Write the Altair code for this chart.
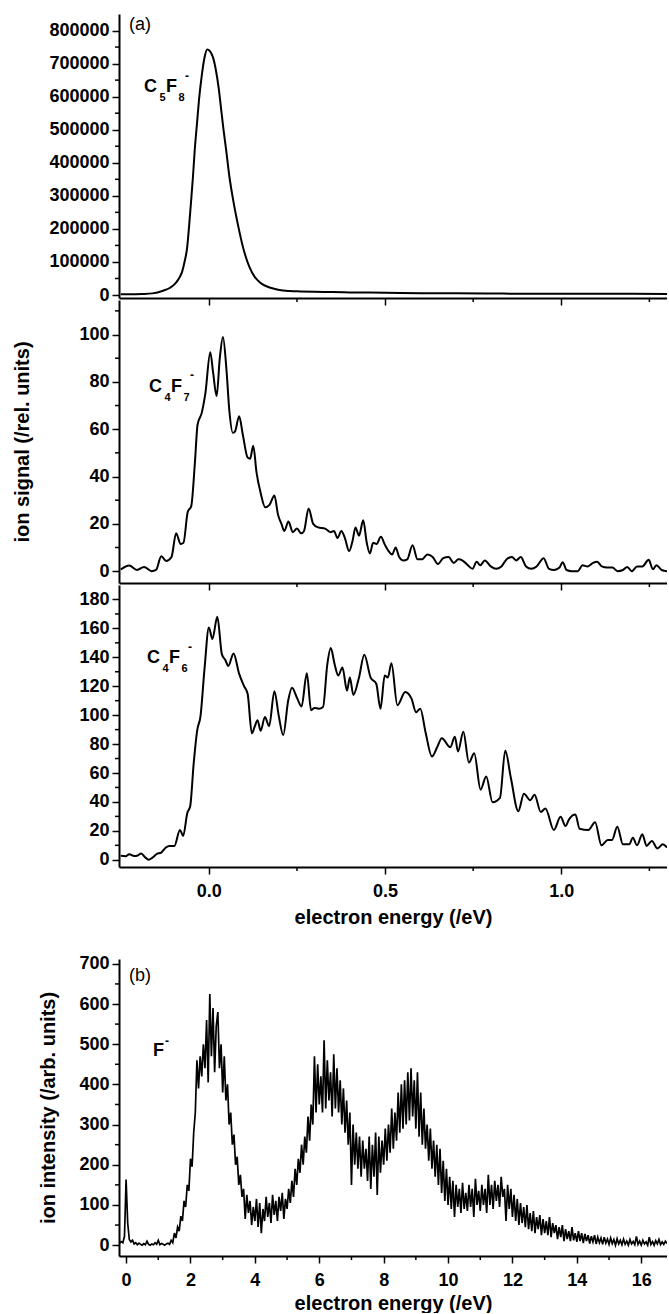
import altair as alt
import pandas as pd

FONT = "Liberation Sans"

# ---------------- (a) anion yields at low electron energy ----------------
C5F8_ENERGY = [-0.25, -0.22, -0.19, -0.16, -0.13, -0.11, -0.095, -0.085, -0.076, -0.068,
               -0.062, -0.056, -0.050, -0.045, -0.040, -0.034, -0.028, -0.020, -0.012, -0.005,
               0.003, 0.012, 0.020, 0.028, 0.034, 0.041, 0.049, 0.058, 0.069, 0.083,
               0.099, 0.115, 0.130, 0.145, 0.160, 0.175, 0.200, 0.23, 0.26, 0.30,
               0.35, 0.40, 0.50, 0.60, 0.70, 0.80, 0.90, 1.00, 1.10, 1.20, 1.30]
C5F8_SIGNAL = [2000, 2000, 3000, 5000, 13000, 22000, 35000, 50000, 70000, 105000,
               140000, 210000, 290000, 360000, 440000, 515000, 590000, 665000, 720000, 743000,
               738000, 718000, 680000, 625000, 570000, 505000, 439000, 360000, 287000, 210000,
               136000, 85000, 55000, 38000, 28000, 22000, 15000, 12000, 11000, 10000,
               9000, 8000, 7000, 5500, 5000, 4500, 4000, 4000, 3500, 3500, 3000]

C4F7_ENERGY = [-0.250, -0.226, -0.204, -0.184, -0.162, -0.150, -0.135, -0.121, -0.106, -0.093,
               -0.080, -0.072, -0.060, -0.050, -0.040, -0.032, -0.020, -0.010, 0.004, 0.012,
               0.022, 0.031, 0.040, 0.050, 0.058, 0.068, 0.074, 0.086, 0.096, 0.110,
               0.117, 0.126, 0.135, 0.147, 0.160, 0.172, 0.186, 0.196, 0.206, 0.214,
               0.226, 0.238, 0.250, 0.262, 0.270, 0.283, 0.296, 0.310, 0.330, 0.345,
               0.355, 0.365, 0.376, 0.386, 0.398, 0.408, 0.416, 0.426, 0.438, 0.448,
               0.457, 0.466, 0.476, 0.488, 0.500, 0.510, 0.520, 0.530, 0.540, 0.552,
               0.563, 0.578, 0.592, 0.605, 0.620, 0.635, 0.650, 0.665, 0.680, 0.695,
               0.708, 0.720, 0.735, 0.748, 0.760, 0.770, 0.783, 0.800, 0.815, 0.830,
               0.845, 0.860, 0.872, 0.885, 0.900, 0.915, 0.930, 0.950, 0.965, 0.980,
               0.995, 1.004, 1.015, 1.030, 1.047, 1.060, 1.075, 1.090, 1.102, 1.115,
               1.130, 1.145, 1.160, 1.175, 1.187, 1.200, 1.215, 1.230, 1.248, 1.260,
               1.270, 1.285, 1.300]
C4F7_SIGNAL = [0.7, 2.4, 0.5, 1.8, 0.0, 0.5, 6.3, 4.3, 6.0, 16.0,
               11.5, 12.0, 25.0, 27.5, 45.0, 62.0, 67.0, 75.0, 92.5, 84.0,
               74.0, 90.0, 99.0, 85.0, 68.0, 58.5, 59.0, 65.5, 58.0, 48.0,
               47.5, 53.0, 42.0, 33.0, 27.0, 28.0, 32.0, 24.0, 20.0, 17.0,
               21.0, 16.5, 18.0, 16.0, 17.0, 26.5, 20.0, 18.5, 18.0, 16.5,
               17.0, 14.0, 17.0, 14.0, 8.5, 13.0, 18.5, 15.0, 21.5, 12.0,
               7.5, 12.0, 11.5, 14.5, 11.0, 8.5, 7.0, 10.0, 6.0, 4.5,
               5.0, 11.0, 5.0, 5.0, 7.0, 6.0, 3.0, 5.5, 6.0, 3.5,
               5.0, 4.5, 2.5, 1.0, 4.0, 2.5, 4.5, 2.0, 1.0, 2.0,
               5.0, 6.0, 4.5, 6.0, 2.0, 1.0, 2.0, 5.5, 1.0, 0.5,
               1.5, 3.8, 0.5, 0.0, 0.0, 2.5, 2.0, 3.5, 4.0, 2.0,
               1.5, 1.5, 0.0, 0.5, 1.8, 0.0, 2.0, 2.0, 4.8, 0.8,
               2.5, 0.5, 0.0]

C4F6_ENERGY = [-0.250, -0.236, -0.226, -0.212, -0.202, -0.192, -0.180, -0.171, -0.160, -0.148,
               -0.135, -0.122, -0.112, -0.098, -0.082, -0.073, -0.061, -0.053, -0.043, -0.033,
               -0.024, -0.012, 0.000, 0.010, 0.024, 0.037, 0.047, 0.055, 0.070, 0.086,
               0.100, 0.110, 0.122, 0.130, 0.138, 0.147, 0.159, 0.171, 0.186, 0.198,
               0.211, 0.225, 0.236, 0.250, 0.263, 0.278, 0.290, 0.300, 0.312, 0.324,
               0.336, 0.346, 0.357, 0.367, 0.379, 0.392, 0.400, 0.410, 0.426, 0.441,
               0.459, 0.475, 0.487, 0.499, 0.508, 0.518, 0.535, 0.557, 0.575, 0.588,
               0.600, 0.615, 0.633, 0.648, 0.661, 0.685, 0.698, 0.707, 0.722, 0.738,
               0.753, 0.771, 0.787, 0.805, 0.826, 0.841, 0.857, 0.878, 0.894, 0.912,
               0.924, 0.942, 0.955, 0.979, 0.998, 1.012, 1.022, 1.040, 1.052, 1.077,
               1.096, 1.114, 1.132, 1.144, 1.159, 1.175, 1.193, 1.203, 1.215, 1.230,
               1.242, 1.257, 1.273, 1.288, 1.300]
C4F6_SIGNAL = [2.7, 2.5, 3.9, 2.6, 3.0, 4.3, 1.5, 0.0, 1.5, 4.0,
               5.0, 8.5, 9.6, 9.6, 20.6, 16.5, 32.5, 37.0, 66.8, 89.7,
               98.8, 133.0, 160.6, 152.6, 168.0, 142.0, 138.0, 134.0, 142.7, 128.5,
               120.0, 114.8, 87.4, 92.0, 96.5, 89.2, 98.8, 92.4, 116.6, 100.0,
               86.2, 110.0, 118.9, 112.0, 106.0, 129.0, 103.4, 105.0, 104.5, 105.7,
               135.0, 146.4, 135.0, 127.4, 133.0, 117.0, 126.0, 114.0, 126.0, 141.8,
               126.0, 121.7, 104.5, 127.4, 126.0, 135.9, 106.8, 116.0, 111.4, 102.0,
               104.5, 88.0, 71.4, 78.0, 84.0, 77.8, 85.0, 74.8, 88.5, 67.2,
               73.6, 48.5, 57.6, 39.8, 42.8, 75.5, 56.5, 33.6, 45.7, 41.2,
               45.0, 33.0, 35.5, 20.6, 29.7, 23.3, 27.9, 31.3, 21.5, 20.6,
               26.0, 10.0, 13.7, 13.7, 22.9, 10.7, 10.7, 15.3, 10.0, 17.6,
               9.6, 13.0, 7.8, 10.7, 8.5]

# ---------------- (b) F- yield, sampled every 0.05 eV from -0.2 eV ----------------
F_START = -0.2
F_STEP = 0.05
F_SIGNAL = [
    5, 9, 6, 22,
    163, 55, 14, 8, 12, 3, 6, 1, 5, 2, 0, 4, 1, 10, 2, 0, 3, 1, 6, 2,
    12, 1, 4, 2, 0, 3, 5, 2, 12, 6, 30, 18, 45, 35, 72, 60, 110, 95, 150, 135,
    215, 195, 280, 330, 460, 390, 470, 420, 500, 440, 560, 405, 625, 470, 590, 430, 545, 580, 440, 500,
    380, 470, 360, 400, 300, 330, 250, 275, 200, 220, 150, 175, 120, 140, 65, 125, 80, 110, 50, 95,
    60, 115, 45, 105, 30, 90, 60, 120, 70, 105, 55, 125, 75, 110, 60, 120, 85, 130, 65, 115,
    90, 140, 105, 160, 120, 190, 150, 215, 180, 250, 200, 270, 230, 320, 260, 350, 300, 470, 330, 450,
    350, 420, 330, 510, 340, 460, 360, 430, 320, 475, 340, 440, 330, 410, 300, 390, 280, 360, 250, 330,
    150, 300, 200, 280, 190, 270, 170, 260, 190, 240, 160, 270, 140, 250, 170, 280, 125, 270, 180, 260,
    200, 290, 210, 300, 230, 340, 240, 330, 260, 380, 280, 400, 290, 410, 300, 430, 310, 440, 320, 410,
    290, 430, 270, 380, 250, 340, 240, 300, 210, 290, 190, 260, 170, 250, 150, 240, 130, 210, 110, 190,
    100, 170, 90, 160, 70, 150, 95, 140, 80, 155, 90, 130, 85, 150, 95, 140, 70, 165, 100, 135,
    85, 150, 100, 140, 80, 175, 100, 150, 90, 160, 110, 150, 95, 170, 120, 140, 60, 150, 90, 140,
    70, 125, 60, 115, 50, 105, 55, 95, 45, 100, 40, 80, 35, 85, 30, 70, 40, 75, 25, 65,
    30, 60, 25, 70, 20, 55, 30, 50, 15, 45, 20, 50, 10, 40, 15, 35, 10, 45, 12, 30,
    8, 35, 10, 30, 5, 28, 10, 25, 4, 22, 8, 25, 3, 20, 6, 18, 2, 20, 5, 15,
    2, 18, 4, 14, 0, 16, 3, 12, 1, 15, 2, 10, 0, 14, 3, 9, 1, 22, 2, 10,
    0, 12, 3, 8, 0, 20, 2, 9, 0, 11, 3, 14, 1, 8, 2, 10, 4,
]
F_ENERGY = [round(F_START + F_STEP * i, 2) for i in range(len(F_SIGNAL))]

# ---------------- axis ticks ----------------
A_XDOMAIN = [-0.255, 1.3]
A_XMAJOR = [0.0, 0.5, 1.0]
A_XMINOR = [0.25, 0.75, 1.25]
B_XDOMAIN = [-0.22, 16.8]
B_XMAJOR = [0, 2, 4, 6, 8, 10, 12, 14, 16]
B_XMINOR = [1, 3, 5, 7, 9, 11, 13, 15]

C5F8_YDOMAIN = [-9000, 850000]
C5F8_YMAJOR = [0, 100000, 200000, 300000, 400000, 500000, 600000, 700000, 800000]
C5F8_YMINOR = [50000, 150000, 250000, 350000, 450000, 550000, 650000, 750000]
C4F7_YDOMAIN = [-5, 114.6]
C4F7_YMAJOR = [0, 20, 40, 60, 80, 100]
C4F7_YMINOR = [10, 30, 50, 70, 90, 110]
C4F6_YDOMAIN = [-5, 190]
C4F6_YMAJOR = [0, 20, 40, 60, 80, 100, 120, 140, 160, 180]
C4F6_YMINOR = [10, 30, 50, 70, 90, 110, 130, 150, 170]
F_YDOMAIN = [-27, 712]
F_YMAJOR = [0, 100, 200, 300, 400, 500, 600, 700]
F_YMINOR = [50, 150, 250, 350, 450, 550, 650]

WIDTH = 548


def text_piece(txt, x, y, size, weight="bold"):
    return alt.Chart(pd.DataFrame({"t": [txt]})).mark_text(
        font=FONT, fontSize=size, fontWeight=weight, align="left",
        baseline="alphabetic", color="black",
    ).encode(text="t:N", x=alt.value(x), y=alt.value(y))


def formula(pieces, x0, y0):
    """pieces: (text, dx, dy, size) relative to the formula origin."""
    return [text_piece(t, x0 + dx, y0 + dy, s) for t, dx, dy, s in pieces]


def spectrum(energy, signal, xdomain, ydomain, height, ymajor, yminor,
             xmajor, xminor, xlabels, xfmt, xtitle, xtitle_pad, ytitle, ytitle_pad,
             interp, stroke, extras):
    xs = alt.Scale(domain=xdomain, nice=False, zero=False)
    ys = alt.Scale(domain=ydomain, nice=False, zero=False)
    xaxis = alt.Axis(values=xmajor, labels=xlabels, format=xfmt, labelPadding=8,
                     titlePadding=xtitle_pad, tickSize=7)
    yaxis = alt.Axis(values=ymajor, format="d", labelPadding=3, tickSize=7,
                     titlePadding=ytitle_pad)
    line = alt.Chart(pd.DataFrame({"e": energy, "s": signal})).mark_line(
        color="black", strokeWidth=stroke, interpolate=interp, clip=True,
    ).encode(
        x=alt.X("e:Q", scale=xs, axis=xaxis, title=xtitle),
        y=alt.Y("s:Q", scale=ys, axis=yaxis, title=ytitle),
    )
    # short minor ticks between the labelled ones
    ytick_minor = alt.Chart(pd.DataFrame({"s": yminor})).mark_rule(
        color="black", strokeWidth=1.5,
    ).encode(y=alt.Y("s:Q", scale=ys, axis=yaxis, title=ytitle),
             x=alt.value(-4), x2=alt.value(0))
    xtick_minor = alt.Chart(pd.DataFrame({"e": xminor})).mark_rule(
        color="black", strokeWidth=1.5,
    ).encode(x=alt.X("e:Q", scale=xs, axis=xaxis, title=xtitle),
             y=alt.value(height), y2=alt.value(height + 4))
    return alt.layer(line, ytick_minor, xtick_minor, *extras).properties(
        width=WIDTH, height=height)


p1 = spectrum(C5F8_ENERGY, C5F8_SIGNAL, A_XDOMAIN, C5F8_YDOMAIN, 284,
              C5F8_YMAJOR, C5F8_YMINOR, A_XMAJOR, A_XMINOR, False, ".1f", None, 4, None, 4,
              "monotone", 2,
              [text_piece("(a)", 10, 16, 18, "normal")] + formula(
                  [("C", 0, 0, 18), ("5", 15.5, 9, 11), ("F", 22, 0, 18),
                   ("8", 34.5, 9, 11), ("-", 41, -12, 12)], 25, 78))
p2 = spectrum(C4F7_ENERGY, C4F7_SIGNAL, A_XDOMAIN, C4F7_YDOMAIN, 283,
              C4F7_YMAJOR, C4F7_YMINOR, A_XMAJOR, A_XMINOR, False, ".1f", None, 4,
              "ion signal (/rel. units)", 46, "monotone", 2,
              formula([("C", 0, 0, 18), ("4", 15.5, 9, 11), ("F", 22, 0, 18),
                       ("7", 34.5, 9, 11), ("-", 41, -13, 12)], 30, 92))
p3 = spectrum(C4F6_ENERGY, C4F6_SIGNAL, A_XDOMAIN, C4F6_YDOMAIN, 282,
              C4F6_YMAJOR, C4F6_YMINOR, A_XMAJOR, A_XMINOR, True, ".1f",
              "electron energy (/eV)", 7, None, 4, "monotone", 2,
              formula([("C", 0, 0, 18), ("4", 15.5, 9, 11), ("F", 22, 0, 18),
                       ("6", 34.5, 9, 11), ("-", 41, -12, 12)], 28, 78))
pb = spectrum(F_ENERGY, F_SIGNAL, B_XDOMAIN, F_YDOMAIN, 297,
              F_YMAJOR, F_YMINOR, B_XMAJOR, B_XMINOR, True, "d",
              "electron energy (/eV)", 4, "ion intensity (/arb. units)", 20, "linear", 1.7,
              [text_piece("(b)", 10, 22, 18, "normal"),
               text_piece("F", 34, 97, 18), text_piece("-", 46, 86, 12)])

panel_a = alt.vconcat(p1, p2, p3, spacing=2, bounds="flush")

chart = alt.vconcat(panel_a, pb, spacing=27).properties(
    padding={"left": 12, "top": 14, "right": 0, "bottom": 0},
    background="white",
).configure_view(stroke=None).configure_axis(
    grid=False,
    domainColor="black", domainWidth=2,
    tickColor="black", tickWidth=1.5,
    labelFont=FONT, labelFontSize=18, labelFontWeight="bold", labelColor="black",
    titleFont=FONT, titleFontSize=20, titleFontWeight="bold", titleColor="black",
)

chart.save("out.html", embed_options={"renderer": "svg", "actions": False})
